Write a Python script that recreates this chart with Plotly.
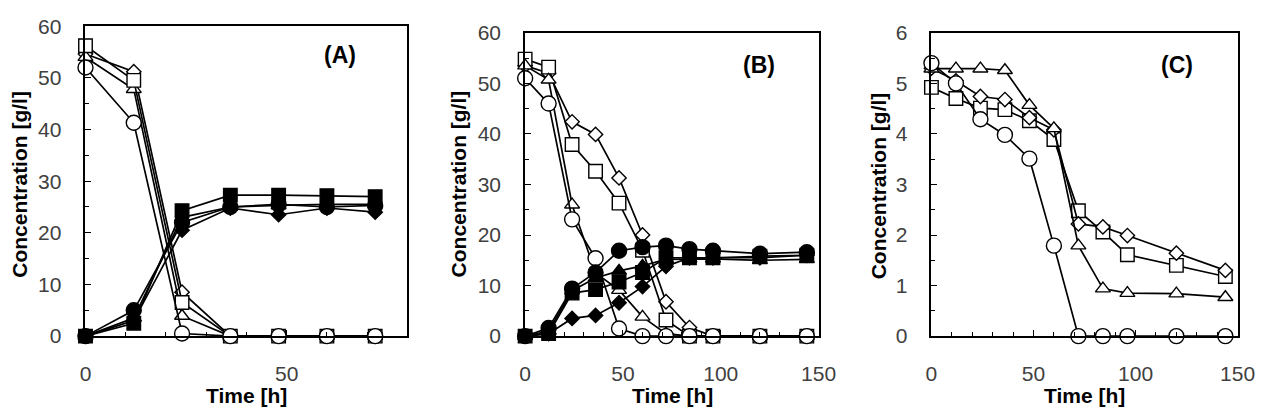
import plotly.graph_objects as go

# ---------------- data ----------------
tA = [0, 12, 24, 36, 48, 60, 72]
A_sq_open = [56.2, 49.5, 6.5, 0, 0, 0, 0]
A_di_open = [54.6, 51.2, 8.5, 0, 0, 0, 0]
A_tr_open = [54.0, 47.8, 3.9, 0, 0, 0, 0]
A_ci_open = [52.0, 41.3, 0.5, 0, 0, 0, 0]
A_sq_fill = [0, 2.5, 24.3, 27.3, 27.3, 27.2, 27.0]
A_di_fill = [0, 3.0, 20.5, 24.8, 23.5, 24.8, 24.0]
A_tr_fill = [0, 3.5, 23.0, 25.0, 25.3, 25.5, 25.5]
A_ci_fill = [0, 5.0, 22.0, 25.0, 25.5, 25.0, 25.3]

tB = [0, 12, 24, 36, 48, 60, 72, 84, 96, 120, 144]
B_sq_open = [54.8, 53.2, 37.9, 32.6, 26.3, 17.0, 3.2, 0, 0, 0, 0]
B_di_open = [53.5, 52.0, 42.4, 39.9, 31.3, 20.0, 6.8, 1.7, 0, 0, 0]
B_tr_open = [53.5, 50.7, 26.0, 12.5, 9.1, 3.8, 0.5, 0, 0, 0, 0]
B_ci_open = [51.0, 46.0, 23.1, 15.4, 1.5, 0, 0, 0, 0, 0, 0]
B_sq_fill = [0, 0.5, 8.5, 9.2, 10.7, 12.6, 15.5, 15.5, 15.5, 15.8, 16.0]
B_di_fill = [0, 0.5, 3.5, 4.1, 6.6, 9.8, 13.8, 15.5, 15.5, 15.5, 16.0]
B_tr_fill = [0, 1.0, 9.0, 11.5, 12.9, 13.9, 15.2, 15.3, 15.3, 15.0, 15.2]
B_ci_fill = [0, 1.6, 9.4, 12.6, 16.9, 17.6, 17.9, 17.2, 16.9, 16.3, 16.6]

tC = [0, 12, 24, 36, 48, 60, 72, 84, 96, 120, 144]
C_sq_open = [4.92, 4.70, 4.51, 4.48, 4.26, 3.89, 2.48, 2.06, 1.61, 1.40, 1.18]
C_di_open = [5.30, 5.05, 4.74, 4.68, 4.32, 4.08, 2.22, 2.16, 1.99, 1.64, 1.30]
C_tr_open = [5.29, 5.29, 5.29, 5.26, 4.57, 4.11, 1.79, 0.94, 0.85, 0.84, 0.77]
C_ci_open = [5.40, 5.00, 4.29, 3.98, 3.51, 1.79, 0, 0, 0, 0, 0]

panel_labels = ["(A)", "(B)", "(C)"]
x_title = "Time [h]"
y_title = "Concentration [g/l]"

# ---------------- figure ----------------
fig = go.Figure()

W, H = 1288, 418
def px_x(p):
    return p / W
def px_y(p):
    return 1 - p / H

doms = {
    1: dict(x=[px_x(81), px_x(409)], y=[px_y(343), px_y(15)]),
    2: dict(x=[px_x(529), px_x(828)], y=[px_y(343), px_y(22)]),
    3: dict(x=[px_x(943), px_x(1255)], y=[px_y(343), px_y(22)]),
}

symsize = {"square": 13.5, "diamond": 11, "triangle-up": 13, "circle": 15}

def add(t, y, sym, filled, k):
    xa = "x" if k == 1 else f"x{k}"
    ya = "y" if k == 1 else f"y{k}"
    fig.add_trace(go.Scatter(
        x=t, y=y, mode="lines+markers", xaxis=xa, yaxis=ya,
        line=dict(color="black", width=1.7),
        marker=dict(symbol=sym, size=symsize[sym],
                    color="black" if filled else "white",
                    line=dict(color="black", width=1.4)),
        cliponaxis=False, showlegend=False, hoverinfo="x+y"))

# Panel A
add(tA, A_sq_fill, "square", True, 1)
add(tA, A_di_fill, "diamond", True, 1)
add(tA, A_tr_fill, "triangle-up", True, 1)
add(tA, A_ci_fill, "circle", True, 1)
add(tA, A_di_open, "diamond", False, 1)
add(tA, A_tr_open, "triangle-up", False, 1)
add(tA, A_sq_open, "square", False, 1)
add(tA, A_ci_open, "circle", False, 1)

# Panel B
add(tB, B_di_open, "diamond", False, 2)
add(tB, B_sq_open, "square", False, 2)
add(tB, B_tr_open, "triangle-up", False, 2)
add(tB, B_ci_open, "circle", False, 2)
add(tB, B_di_fill, "diamond", True, 2)
add(tB, B_sq_fill, "square", True, 2)
add(tB, B_tr_fill, "triangle-up", True, 2)
add(tB, B_ci_fill, "circle", True, 2)

# Panel C
add(tC, C_sq_open, "square", False, 3)
add(tC, C_di_open, "diamond", False, 3)
add(tC, C_tr_open, "triangle-up", False, 3)
add(tC, C_ci_open, "circle", False, 3)

FONT = "Liberation Sans, Arial, sans-serif"
tickfont = dict(family=FONT, size=21, color="#404040")

def xaxis(k, rng, dtick):
    return dict(domain=doms[k]["x"], range=rng, dtick=dtick, tick0=0,
                showline=True, linecolor="black", linewidth=1.8, mirror=True,
                ticks="inside", ticklen=6, tickwidth=1.3, tickcolor="black",
                minor=dict(dtick=10, ticks="inside", ticklen=4, tickwidth=1.2, tickcolor="black"),
                showgrid=False, zeroline=False, tickfont=tickfont, ticklabelstandoff=18,
                anchor="y" if k == 1 else f"y{k}")

def yaxis(k, rng, dtick, mdt):
    return dict(domain=doms[k]["y"], range=rng, dtick=dtick, tick0=0,
                showline=True, linecolor="black", linewidth=1.8, mirror=True,
                ticks="inside", ticklen=6, tickwidth=1.3, tickcolor="black",
                minor=dict(dtick=mdt, ticks="inside", ticklen=4, tickwidth=1.2, tickcolor="black"),
                showgrid=False, zeroline=False, tickfont=tickfont, ticklabelstandoff=18,
                anchor="x" if k == 1 else f"x{k}")

fig.update_layout(
    width=W, height=H, margin=dict(l=0, r=0, t=0, b=0),
    paper_bgcolor="white", plot_bgcolor="white",
    xaxis=xaxis(1, [0, 80], 50), yaxis=yaxis(1, [0, 60], 10, 5),
    xaxis2=xaxis(2, [0, 150], 50), yaxis2=yaxis(2, [0, 60], 10, 5),
    xaxis3=xaxis(3, [0, 150], 50), yaxis3=yaxis(3, [0, 6], 1, 0.5),
)

titlefont = dict(family=FONT, size=21, color="black")
lblfont = dict(family=FONT, size=23, color="black")

annos = []
for k, (lx, ly) in zip([1, 2, 3], [(340, 46), (767, 56), (1193, 56)]):
    annos.append(dict(text=f"<b>{panel_labels[k-1]}</b>", x=px_x(lx), y=px_y(ly),
                      xref="paper", yref="paper", showarrow=False, font=lblfont,
                      xanchor="center", yanchor="middle"))
for cx in [245, 679, 1099]:
    annos.append(dict(text=f"<b>{x_title}</b>", x=px_x(cx), y=px_y(406),
                      xref="paper", yref="paper", showarrow=False, font=titlefont,
                      xanchor="center", yanchor="middle"))
for cx, cy in [(14, 182), (462, 182), (889, 184)]:
    annos.append(dict(text=f"<b>{y_title}</b>", x=px_x(cx), y=px_y(cy), textangle=-90,
                      xref="paper", yref="paper", showarrow=False, font=titlefont,
                      xanchor="center", yanchor="middle"))
fig.update_layout(annotations=annos)

fig.write_html("out.html")
